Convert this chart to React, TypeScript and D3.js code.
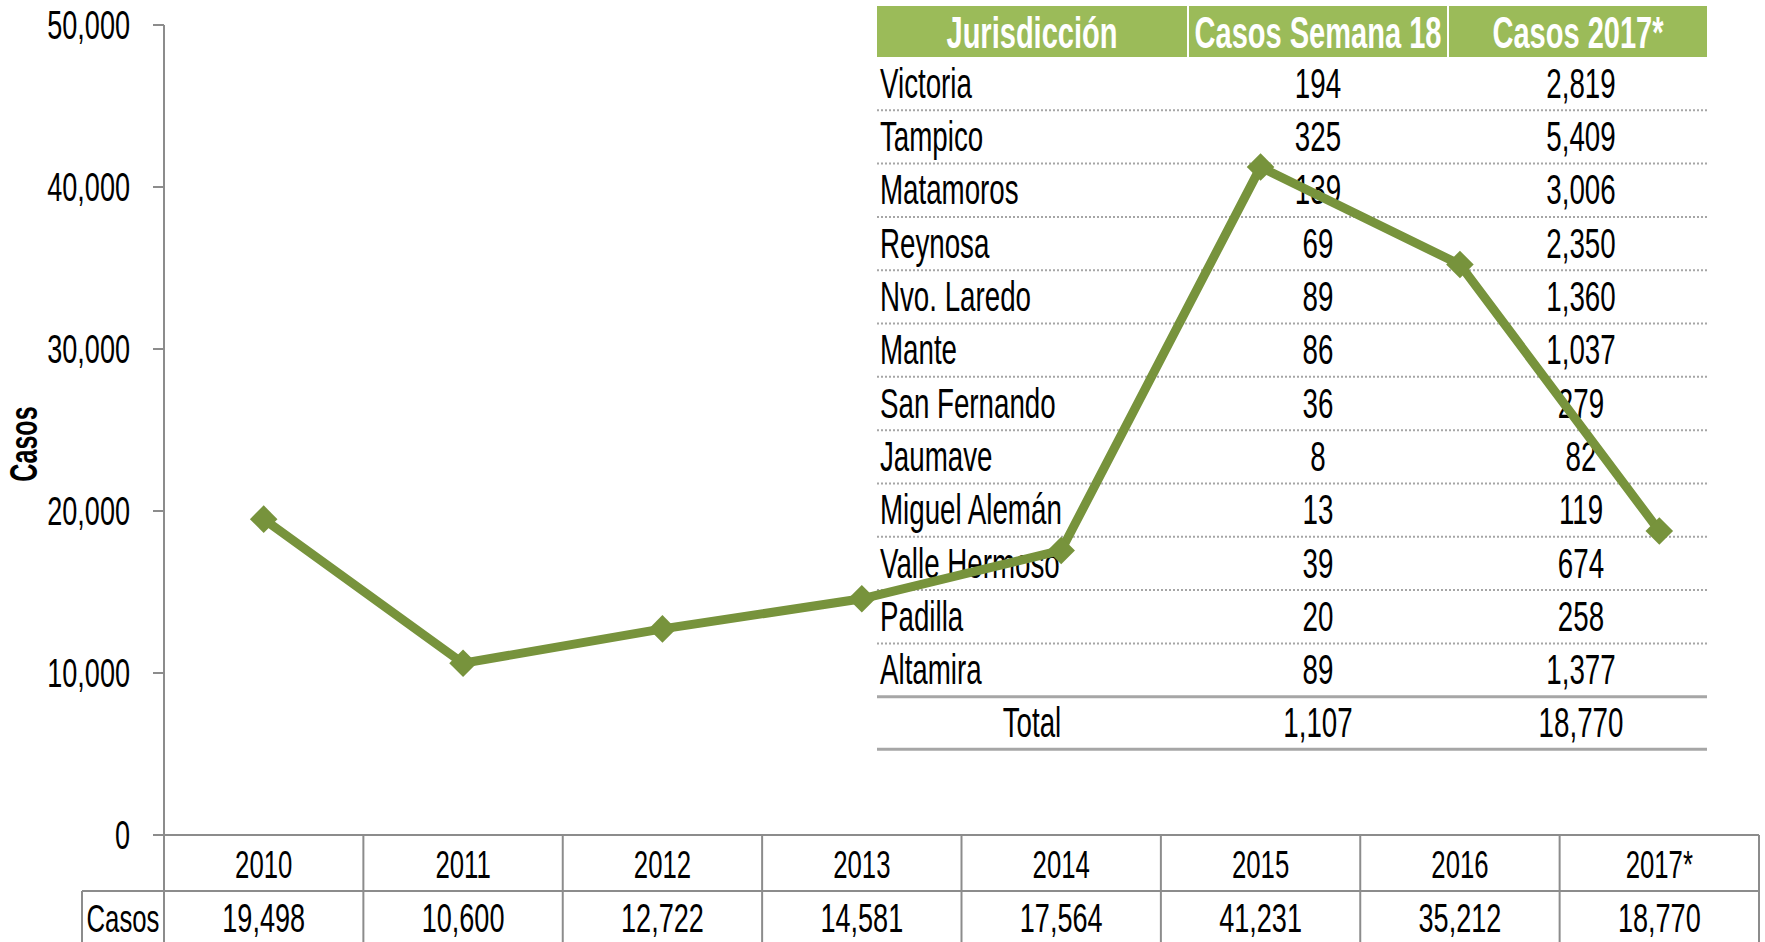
import React from "react";
import * as d3 from "d3";

const years = ["2010", "2011", "2012", "2013", "2014", "2015", "2016", "2017*"];
const casos = [19498, 10600, 12722, 14581, 17564, 41231, 35212, 18770];
const yTicks = [0, 10000, 20000, 30000, 40000, 50000];

const headers = ["Jurisdicción", "Casos Semana 18", "Casos 2017*"];
const jurisdicciones = [
  "Victoria", "Tampico", "Matamoros", "Reynosa", "Nvo. Laredo", "Mante",
  "San Fernando", "Jaumave", "Miguel Alemán", "Valle Hermoso", "Padilla", "Altamira",
];
const semana18 = [194, 325, 139, 69, 89, 86, 36, 8, 13, 39, 20, 89];
const casos2017 = [2819, 5409, 3006, 2350, 1360, 1037, 279, 82, 119, 674, 258, 1377];
const totalSemana18 = 1107;
const totalCasos2017 = 18770;

const W = 1765;
const H = 942;
const FONT = "'Liberation Sans', Arial, sans-serif";
const SX = 0.66;
const GRAY = "#8c8c8c";
const GREEN = "#77933C";
const HEADER_GREEN = "#9BBB59";
const TBL_GRAY = "#a6a6a6";

const fmt = d3.format(",");

type TProps = {
  x: number;
  y: number;
  size: number;
  anchor?: "start" | "middle" | "end";
  bold?: boolean;
  fill?: string;
  rotate?: number;
  children: React.ReactNode;
};

function T({ x, y, size, anchor = "middle", bold = false, fill = "#000", rotate = 0, children }: TProps) {
  return (
    <text
      transform={`translate(${x},${y}) rotate(${rotate}) scale(${SX},1)`}
      textAnchor={anchor}
      dominantBaseline="central"
      fontFamily={FONT}
      fontSize={size}
      fontWeight={bold ? "bold" : "normal"}
      fill={fill}
    >
      {children}
    </text>
  );
}

export default function App() {
  const left = 164;
  const right = 1759;
  const top = 25;
  const bottom = 835;

  const x = d3.scaleBand<string>().domain(years).range([left, right]).padding(0);
  const y = d3.scaleLinear().domain([0, 50000]).range([bottom, top]);

  const line = d3
    .line<number>()
    .x((_, i) => (x(years[i]) as number) + x.bandwidth() / 2)
    .y((d) => y(d));

  const diamond = d3.symbol(d3.symbolSquare, 380)() as string;

  const row1Bottom = 891;
  const legendLeft = 82;

  const cols = [
    [877, 1187],
    [1189, 1447],
    [1449, 1707],
  ];
  const headTop = 6;
  const headBottom = 57;
  const rowH = (696.7 - headBottom) / 12;
  const rowsBottom = headBottom + rowH * 12;
  const totalBottom = rowsBottom + 52.5;
  const tblLeft = cols[0][0];
  const tblRight = cols[2][1];

  return (
    <svg
      width={W}
      height={H}
      style={{ position: "absolute", left: 0, top: 0, background: "#fff" }}
    >
      <rect x={0} y={0} width={W} height={H} fill="#fff" />

      {/* Y axis */}
      <line x1={left} x2={left} y1={top} y2={H} stroke={GRAY} strokeWidth={2} />
      {yTicks.map((t) => (
        <g key={t}>
          <line x1={153} x2={left} y1={y(t)} y2={y(t)} stroke={GRAY} strokeWidth={2} />
          <T x={130} y={y(t)} size={41} anchor="end">
            {fmt(t)}
          </T>
        </g>
      ))}
      <T x={24} y={444} size={38} bold rotate={-90}>
        Casos
      </T>

      {/* X axis / data table */}
      <line x1={153} x2={right} y1={bottom} y2={bottom} stroke={GRAY} strokeWidth={2} />
      <line x1={legendLeft} x2={right} y1={row1Bottom} y2={row1Bottom} stroke={GRAY} strokeWidth={2} />
      <line x1={legendLeft} x2={legendLeft} y1={row1Bottom} y2={H} stroke={GRAY} strokeWidth={2} />
      {years.map((yr) => (
        <line
          key={"b" + yr}
          x1={(x(yr) as number) + x.bandwidth()}
          x2={(x(yr) as number) + x.bandwidth()}
          y1={bottom}
          y2={H}
          stroke={GRAY}
          strokeWidth={2}
        />
      ))}
      {years.map((yr, i) => (
        <g key={"l" + yr}>
          <T x={(x(yr) as number) + x.bandwidth() / 2} y={864} size={39}>
            {yr}
          </T>
          <T x={(x(yr) as number) + x.bandwidth() / 2} y={918} size={41}>
            {fmt(casos[i])}
          </T>
        </g>
      ))}
      <T x={(legendLeft + left) / 2} y={918} size={39}>
        Casos
      </T>

      {/* Top-right table */}
      {headers.map((h, i) => (
        <g key={h}>
          <rect
            x={cols[i][0]}
            y={headTop}
            width={cols[i][1] - cols[i][0]}
            height={headBottom - headTop}
            fill={HEADER_GREEN}
          />
          <T x={(cols[i][0] + cols[i][1]) / 2} y={(headTop + headBottom) / 2 + 1} size={44} bold fill="#fff">
            {h}
          </T>
        </g>
      ))}
      {jurisdicciones.map((j, i) => {
        const cy = headBottom + rowH * (i + 0.5);
        return (
          <g key={j}>
            <T x={880} y={cy} size={42} anchor="start">
              {j}
            </T>
            <T x={(cols[1][0] + cols[1][1]) / 2} y={cy} size={42}>
              {fmt(semana18[i])}
            </T>
            <T x={(cols[2][0] + cols[2][1]) / 2 + 3} y={cy} size={42}>
              {fmt(casos2017[i])}
            </T>
            {i < jurisdicciones.length - 1 && (
              <line
                x1={tblLeft}
                x2={tblRight}
                y1={headBottom + rowH * (i + 1)}
                y2={headBottom + rowH * (i + 1)}
                stroke={TBL_GRAY}
                strokeWidth={2}
                strokeDasharray="2,2"
              />
            )}
          </g>
        );
      })}
      <line x1={tblLeft} x2={tblRight} y1={rowsBottom} y2={rowsBottom} stroke={TBL_GRAY} strokeWidth={3} />
      <line x1={tblLeft} x2={tblRight} y1={totalBottom} y2={totalBottom} stroke={TBL_GRAY} strokeWidth={3} />
      <T x={(cols[0][0] + cols[0][1]) / 2} y={(rowsBottom + totalBottom) / 2} size={42}>
        Total
      </T>
      <T x={(cols[1][0] + cols[1][1]) / 2} y={(rowsBottom + totalBottom) / 2} size={42}>
        {fmt(totalSemana18)}
      </T>
      <T x={(cols[2][0] + cols[2][1]) / 2 + 3} y={(rowsBottom + totalBottom) / 2} size={42}>
        {fmt(totalCasos2017)}
      </T>

      {/* Line series */}
      <path d={line(casos) as string} fill="none" stroke={GREEN} strokeWidth={9} strokeLinejoin="miter" />
      {casos.map((c, i) => (
        <path
          key={"m" + i}
          d={diamond}
          transform={`translate(${(x(years[i]) as number) + x.bandwidth() / 2},${y(c)}) rotate(45)`}
          fill={GREEN}
        />
      ))}
    </svg>
  );
}
